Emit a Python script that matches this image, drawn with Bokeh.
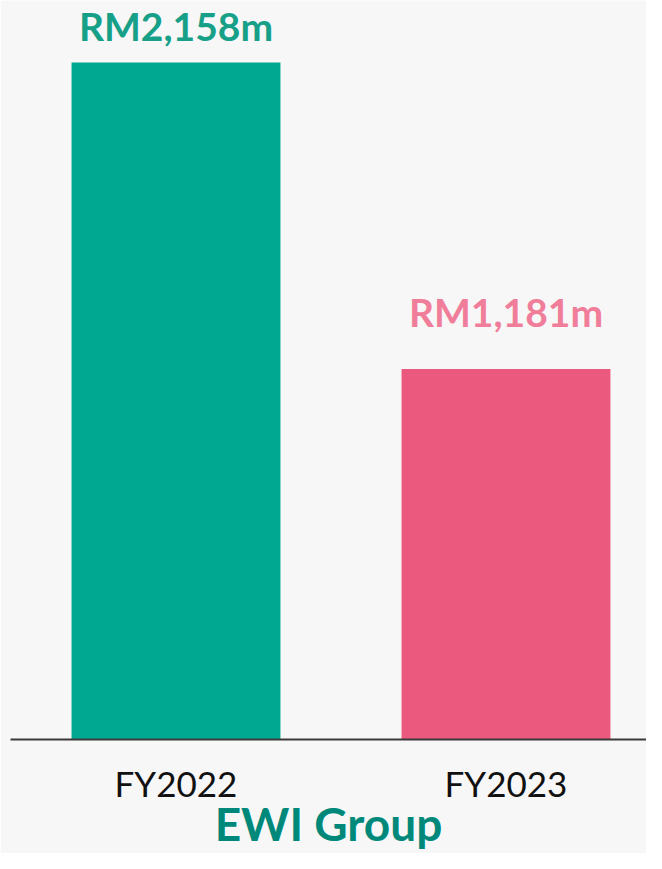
from bokeh.plotting import figure
from bokeh.models import Range1d, FixedTicker, ColumnDataSource
from bokeh.core.properties import value
from bokeh.embed import file_html
from bokeh.resources import INLINE

# ---- data ----
categories = ["FY2022", "FY2023"]
revenue = [2158, 1181]
value_labels = ["RM2,158m", "RM1,181m"]
bar_colors = ["#00A891", "#EB5A7E"]
label_colors = ["#17A088", "#F07D99"]
group_title = "EWI Group"

xs = list(range(len(categories)))
src = ColumnDataSource(dict(x=xs, top=revenue, lab=value_labels,
                            bc=bar_colors, lc=label_colors,
                            yoff=[-37, -57]))

FONT = "Lato"
p = figure(width=646, height=853, output_backend="svg", toolbar_location=None,
           x_range=Range1d(-0.5015, 1.4258), y_range=Range1d(0, 2355.7),
           min_border_left=10, min_border_right=0, min_border_top=0,
           min_border_bottom=114)

p.background_fill_color = "#F7F7F7"
p.border_fill_color = "#F7F7F7"
p.outline_line_color = None
p.xgrid.visible = False
p.ygrid.visible = False
p.yaxis.visible = False

p.vbar(x="x", top="top", width=0.633, bottom=0, fill_color="bc",
       line_color=None, source=src)
p.text(x="x", y="top", text="lab", text_color="lc", y_offset="yoff",
       text_align="center", text_baseline="alphabetic",
       text_font=value(FONT), text_font_style="bold",
       text_font_size="39px", source=src)

ax = p.xaxis[0]
ax.ticker = FixedTicker(ticks=xs)
ax.major_label_overrides = {i: c for i, c in zip(xs, categories)}
ax.major_tick_line_color = None
ax.minor_tick_line_color = None
ax.axis_line_color = "#3A3A3A"
ax.axis_line_width = 2
ax.major_label_text_font = FONT
ax.major_label_text_font_size = "35px"
ax.major_label_text_color = "#111111"
ax.major_label_standoff = 16
ax.axis_label = group_title
ax.axis_label_text_font = FONT
ax.axis_label_text_font_style = "bold"
ax.axis_label_text_font_size = "46px"
ax.axis_label_text_color = "#00897A"
ax.axis_label_standoff = -11

open("out.html", "w").write(file_html(p, INLINE))
